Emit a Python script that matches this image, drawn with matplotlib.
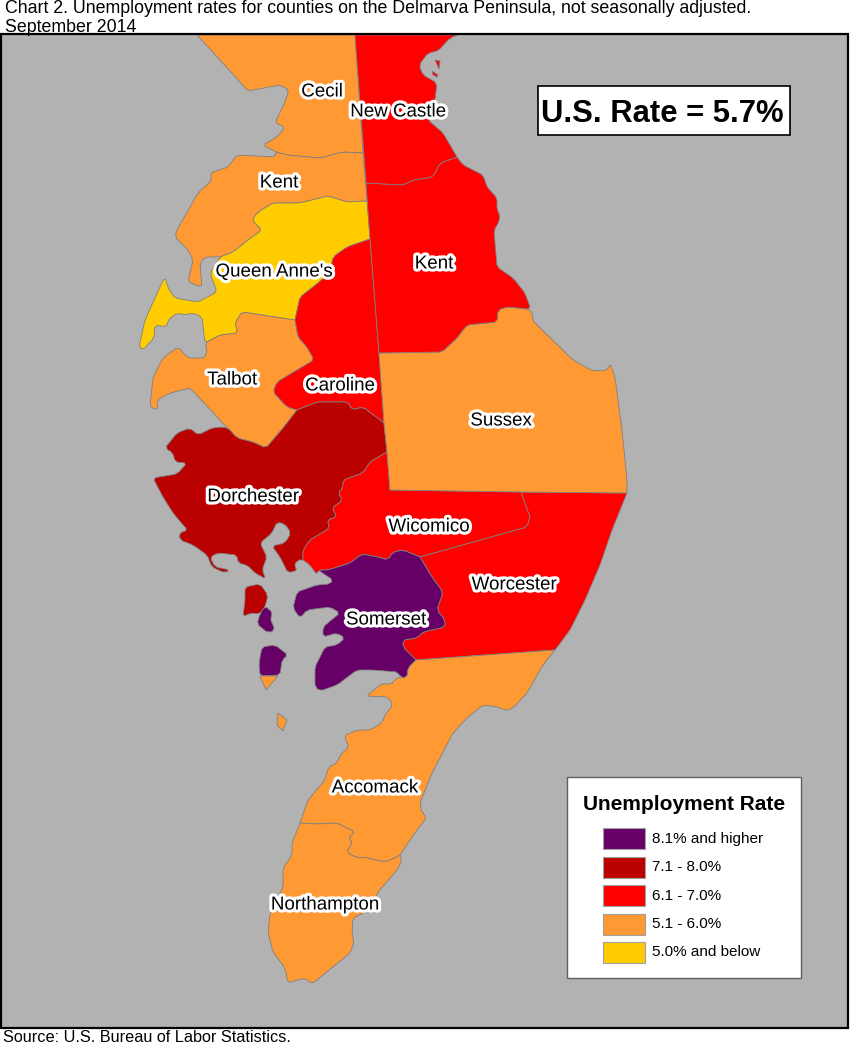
# -*- coding: utf-8 -*-
"""Unemployment rates for counties on the Delmarva Peninsula."""

import matplotlib
matplotlib.use('Agg')
import matplotlib.patheffects as pe
import matplotlib.pyplot as plt
from matplotlib.patches import Polygon, Rectangle

plt.rcParams['font.family'] = ['Liberation Sans', 'DejaVu Sans']

PURPLE = '#660066'
DARK_RED = '#BB0000'
RED = '#FF0000'
ORANGE = '#FF9933'
YELLOW = '#FFCC00'
WATER = '#B2B2B2'
EDGE = '#808080'

legend_labels = ['8.1% and higher', '7.1 - 8.0%', '6.1 - 7.0%', '5.1 - 6.0%', '5.0% and below']
legend_colors = [PURPLE, DARK_RED, RED, ORANGE, YELLOW]

# county outlines, traced in picture pixels
cecil = [(197, 35), (220, 60), (248, 91), (280, 85), (289, 90), (285, 102), (275, 123), (285, 127),
         (277, 137), (263, 145), (276, 152), (287, 155), (320, 158), (343, 152), (363, 153), (355, 35)]
kent_md = [(276, 152), (275, 157), (237, 155), (228, 167), (210, 173), (212, 180), (198, 193),
           (177, 230), (175, 237), (188, 250), (193, 260), (188, 282), (202, 287), (200, 263),
           (205, 257), (220, 257), (233, 252), (248, 240), (262, 230), (252, 220), (258, 212),
           (273, 203), (300, 203), (328, 196), (347, 202), (367, 201), (363, 153), (343, 152),
           (320, 158), (287, 155)]
queen_annes = [(367, 201), (370, 239), (347, 247), (333, 257), (330, 273), (313, 287), (300, 297),
               (295, 320), (242, 312), (235, 323), (238, 333), (220, 335), (205, 343), (202, 317),
               (193, 313), (185, 315), (177, 313), (168, 320), (167, 327), (155, 325), (154, 338),
               (143, 350), (139, 347), (145, 320), (160, 287), (165, 277), (168, 288), (175, 298),
               (198, 302), (217, 292), (210, 273), (220, 257), (233, 252), (248, 240), (262, 230),
               (252, 220), (258, 212), (273, 203), (300, 203), (328, 196), (347, 202)]
talbot = [(295, 320), (298, 337), (307, 347), (314, 360), (297, 370), (277, 382), (273, 392),
          (287, 407), (297, 410), (283, 428), (266, 448), (253, 442), (237, 438), (228, 428),
          (222, 423), (220, 420), (190, 388), (170, 393), (157, 400), (158, 410), (150, 407),
          (153, 377), (163, 358), (178, 347), (188, 358), (205, 358), (207, 350), (205, 343),
          (220, 335), (238, 333), (235, 323), (242, 312)]
caroline = [(370, 239), (379, 353), (384, 423), (363, 407), (352, 410), (348, 402), (317, 402), (297, 410),
            (287, 407), (273, 392), (277, 382), (297, 370), (314, 360), (307, 347), (298, 337),
            (295, 320), (300, 297), (313, 287), (330, 273), (333, 257), (347, 247)]
dorchester = [(297, 410), (317, 402), (348, 402), (352, 410), (363, 407), (384, 423), (387, 452),
              (370, 462), (363, 473), (343, 480), (343, 488), (338, 493), (343, 500), (332, 508),
              (337, 517), (327, 520), (330, 528), (310, 540), (303, 550), (303, 560), (297, 560),
              (294, 567), (298, 570), (288, 573), (280, 557), (272, 546), (285, 543), (291, 533),
              (285, 524), (277, 522), (272, 533), (260, 543), (267, 557), (262, 570), (266, 579),
              (255, 573), (247, 565), (238, 563), (237, 555), (218, 553), (210, 557), (215, 567),
              (230, 570), (225, 573), (212, 567), (207, 555), (193, 545), (180, 540), (179, 533),
              (188, 530), (183, 525), (173, 513), (163, 497), (153, 478), (177, 474), (187, 463),
              (175, 462), (173, 453), (165, 448), (177, 433), (190, 428), (198, 435), (212, 428),
              (222, 427), (228, 428), (237, 438), (253, 442), (266, 448), (283, 428)]
dorchester_island = [(245, 587), (260, 584), (268, 595), (265, 607), (260, 614), (250, 613),
                     (243, 617), (245, 600)]
somerset = [(328, 570), (350, 563), (362, 554), (378, 557), (388, 560), (393, 552), (403, 550),
            (420, 557), (432, 577), (443, 592), (437, 610), (445, 620), (445, 627), (423, 632),
            (417, 638), (403, 640), (403, 647), (416, 660), (408, 668), (407, 678), (400, 677),
            (398, 672), (373, 670), (357, 670), (337, 685), (320, 691), (315, 687), (315, 667),
            (325, 647), (337, 645), (345, 638), (337, 633), (323, 637), (323, 627), (340, 613),
            (330, 607), (307, 610), (300, 618), (293, 608), (297, 592), (317, 585), (330, 584),
            (333, 580), (318, 570)]
somerset_island = [(265, 606), (273, 613), (270, 618), (275, 630), (268, 633), (257, 624), (260, 614)]
smith_island = [(262, 647), (275, 645), (288, 655), (282, 660), (280, 675), (260, 676), (259, 663)]
smith_tip = [(260, 676), (278, 676), (266, 690)]
small_island = [(278, 713), (287, 720), (283, 731), (277, 725)]
wicomico = [(387, 452), (390, 490), (521, 492), (530, 517), (527, 527), (420, 557), (403, 550),
            (393, 552), (388, 560), (378, 557), (362, 554), (350, 563), (328, 570), (318, 570),
            (317, 575), (310, 565), (303, 560), (303, 550), (310, 540), (330, 528), (327, 520),
            (337, 517), (332, 508), (343, 500), (338, 493), (343, 488), (343, 480), (363, 473),
            (370, 462)]
worcester = [(521, 492), (627, 493), (612, 530), (600, 565), (585, 600), (570, 630), (555, 650),
             (416, 660), (403, 647), (403, 640), (417, 638), (423, 632), (445, 627), (445, 620),
             (437, 610), (443, 592), (432, 577), (420, 557), (527, 527), (530, 517)]
sussex = [(379, 353), (442, 352), (457, 338), (467, 325), (497, 322), (498, 310), (507, 307),
          (528, 309), (533, 313), (532, 320), (573, 360), (593, 371), (608, 370), (610, 363),
          (615, 377), (622, 430), (627, 480), (627, 493), (521, 492), (390, 490), (387, 452), (384, 423)]
kent_de = [(366, 183), (403, 185), (413, 180), (433, 177), (440, 163), (457, 157), (463, 165),
           (483, 175), (487, 187), (497, 198), (497, 210), (500, 215), (499, 222), (494, 230),
           (497, 267), (513, 278), (525, 293), (530, 307), (528, 309), (507, 307), (498, 310),
           (497, 322), (467, 325), (457, 338), (442, 352), (379, 353), (370, 239)]
new_castle = [(355, 35), (458, 35), (450, 38), (438, 51), (428, 53), (419, 65), (423, 75), (437, 83),
              (435, 100), (428, 120), (443, 133), (457, 157), (440, 163), (433, 177), (413, 180),
              (403, 185), (366, 183)]
new_castle_bit1 = [(435, 60), (440, 61), (439, 69)]
new_castle_bit2 = [(432, 71), (438, 75), (437, 77), (433, 75)]
accomack = [(555, 650), (543, 665), (527, 693), (513, 708), (507, 711), (498, 707), (483, 705),
            (467, 718), (453, 733), (432, 773), (420, 803), (422, 813), (427, 817), (417, 830),
            (400, 855), (397, 857), (385, 862), (363, 857), (358, 858), (347, 853), (348, 848),
            (353, 843), (348, 838), (355, 832), (337, 823), (318, 824), (300, 823), (308, 800),
            (325, 780), (328, 768), (338, 762), (340, 755), (349, 747), (344, 736), (357, 730),
            (370, 730), (382, 723), (385, 715), (393, 705), (388, 697), (366, 696), (383, 683),
            (390, 685), (398, 677), (407, 678), (408, 668), (416, 660)]
northampton = [(300, 823), (318, 824), (337, 823), (355, 832), (348, 838), (353, 843), (348, 848),
               (347, 853), (358, 858), (363, 857), (385, 862), (397, 857), (400, 855), (402, 860),
               (397, 870), (378, 892), (370, 910), (353, 918), (352, 933), (354, 943), (350, 953),
               (312, 984), (305, 978), (288, 983), (285, 968), (273, 952), (268, 932), (270, 913),
               (283, 887), (283, 868), (292, 855), (292, 843)]

# points where several counties meet, these stay hard corners
junctions = {(197, 35), (355, 35), (458, 35), (276, 152), (363, 153), (366, 183), (367, 201), (370, 239),
             (295, 320), (379, 353), (384, 423), (387, 452), (390, 490), (521, 492), (530, 517),
             (627, 493), (555, 650), (416, 660), (420, 557), (457, 157), (300, 823), (400, 855),
             (297, 410), (283, 428), (303, 560), (530, 307), (528, 309)}

counties = [
    (cecil, ORANGE), (kent_md, ORANGE), (queen_annes, YELLOW), (talbot, ORANGE), (caroline, RED),
    (dorchester, DARK_RED), (dorchester_island, DARK_RED), (wicomico, RED), (worcester, RED),
    (somerset, PURPLE), (somerset_island, PURPLE), (smith_island, PURPLE), (smith_tip, ORANGE),
    (small_island, ORANGE), (sussex, ORANGE), (kent_de, RED), (new_castle, RED),
    (new_castle_bit1, RED), (new_castle_bit2, RED), (accomack, ORANGE), (northampton, ORANGE),
]

county_names = ['Cecil', 'New Castle', 'Kent', "Queen Anne's", 'Kent', 'Talbot', 'Caroline', 'Sussex',
                'Dorchester', 'Wicomico', 'Worcester', 'Somerset', 'Accomack', 'Northampton']
name_x = [322, 398, 279, 274, 434, 232, 340, 501, 253, 429, 514, 386, 375, 325]
name_y = [92, 112, 183, 272, 264, 380, 386, 421, 497, 527, 585, 620, 788, 905]


def round_corners(outline, cut=2.5):
    """Take the hard corners off a traced outline, at most cut pixels each side."""
    rounded = []
    n = len(outline)
    for i, (x, y) in enumerate(outline):
        if (x, y) in junctions:
            rounded.append((x, y))
            continue
        for (ox, oy) in (outline[i - 1], outline[(i + 1) % n]):
            dist = ((ox - x) ** 2 + (oy - y) ** 2) ** 0.5
            t = min(cut / dist, 0.4)
            rounded.append((x + (ox - x) * t, y + (oy - y) * t))
    return rounded


fig = plt.figure(figsize=(8.5, 10.45), dpi=100)
ax = fig.add_axes([0, 0, 1, 1])
ax.set_xlim(0, 850)
ax.set_ylim(1045, 0)
ax.axis('off')

# map frame
ax.add_patch(Rectangle((1, 34), 847, 994, facecolor=WATER, edgecolor='none', zorder=0))
ax.add_patch(Rectangle((1, 34), 847, 994, facecolor='none', edgecolor='black', linewidth=1.6, zorder=5))

for outline, color in counties:
    shape = round_corners(outline) if len(outline) > 4 else outline
    ax.add_patch(Polygon(shape, closed=True, facecolor=color, edgecolor=EDGE, linewidth=0.6, zorder=1))

halo = [pe.withStroke(linewidth=4.5, foreground='white')]
for name, x, y in zip(county_names, name_x, name_y):
    ax.text(x, y, name, fontsize=13.5, color='black', ha='center', va='center',
            path_effects=halo, zorder=3)

# title and source
ax.text(5, 13, 'Chart 2. Unemployment rates for counties on the Delmarva Peninsula, not seasonally adjusted.',
        fontsize=12.8, ha='left', va='baseline')
ax.text(5, 32, 'September 2014', fontsize=12.8, ha='left', va='baseline')
ax.text(3, 1042, 'Source: U.S. Bureau of Labor Statistics.', fontsize=11.7, ha='left', va='baseline')

# U.S. rate box
ax.add_patch(Rectangle((538, 86), 252, 49, facecolor='white', edgecolor='black', linewidth=1.2, zorder=3))
ax.text(662, 114, 'U.S. Rate = 5.7%', fontsize=22.3, fontweight='bold', ha='center', va='center', zorder=4)

# legend
ax.add_patch(Rectangle((567, 777), 234, 201, facecolor='white', edgecolor='#606060', linewidth=1, zorder=3))
ax.text(684, 804, 'Unemployment Rate', fontsize=15, fontweight='bold', ha='center', va='center', zorder=4)
for i, (label, color) in enumerate(zip(legend_labels, legend_colors)):
    top = 828 + i * 28.5
    ax.add_patch(Rectangle((603, top), 42, 21, facecolor=color, edgecolor='#A0A0A0', linewidth=0.8, zorder=4))
    ax.text(652, top + 10.5, label, fontsize=11, ha='left', va='center', zorder=4)

fig.savefig('out.png', dpi=100)
